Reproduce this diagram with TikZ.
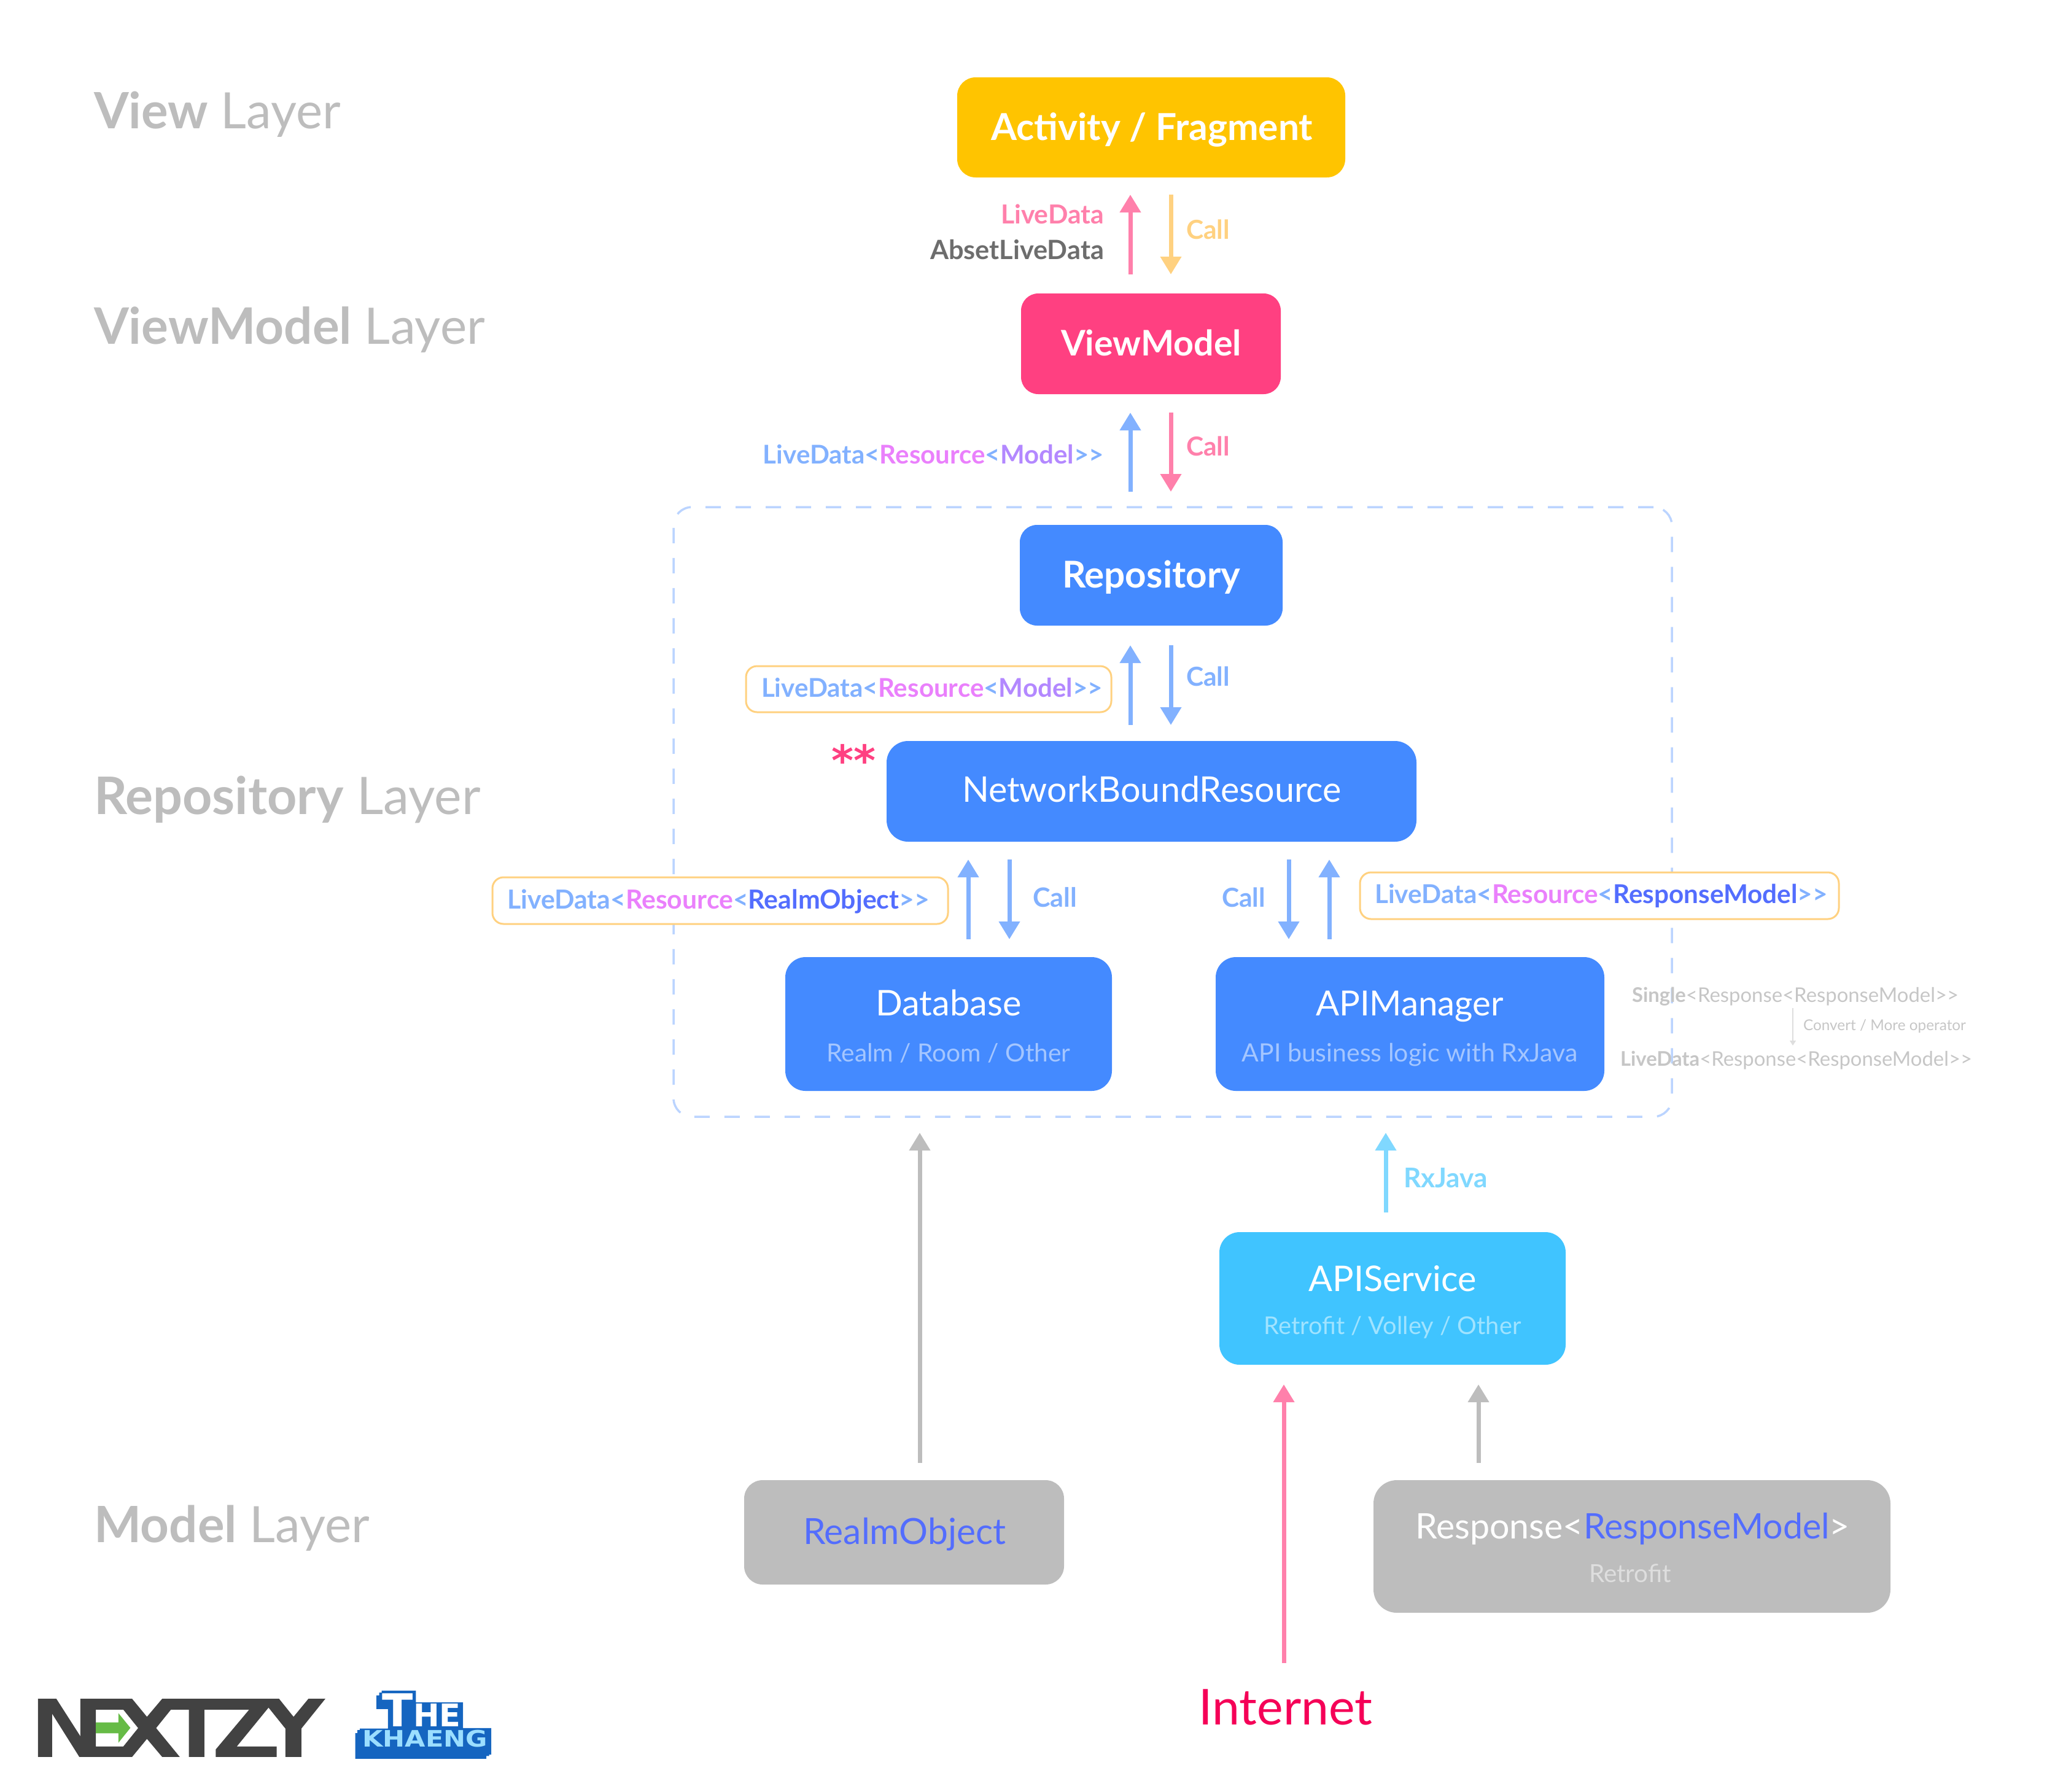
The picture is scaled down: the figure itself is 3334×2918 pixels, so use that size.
\documentclass[tikz,border=0pt]{standalone}
\usepackage{fontspec}
\usepackage{graphicx}
\setmainfont{Lato}
\newfontfamily\logofont{DejaVu Sans}
\usetikzlibrary{arrows.meta,fit}
\definecolor{cblue}{HTML}{448AFF}
\definecolor{cpink}{HTML}{FF4081}
\definecolor{camber}{HTML}{FFC400}
\definecolor{csky}{HTML}{40C4FF}
\definecolor{cgray}{HTML}{BDBDBD}
\definecolor{lblue}{HTML}{82B1FF}
\definecolor{lpink}{HTML}{FF80AB}
\definecolor{lorange}{HTML}{FFD180}
\definecolor{lsky}{HTML}{80D8FF}
\definecolor{rsrc}{HTML}{EA80FC}
\definecolor{mdl}{HTML}{B388FF}
\definecolor{indg}{HTML}{536DFE}
\definecolor{dashc}{HTML}{BBD4FF}
\definecolor{crimson}{HTML}{F50057}
\definecolor{darkt}{HTML}{6D6D6D}
\definecolor{subb}{HTML}{A4C6FF}
\definecolor{subs}{HTML}{A0E3FF}
\definecolor{ltgray}{HTML}{C6C6C6}
\definecolor{nxt}{HTML}{424242}
\definecolor{nxg}{HTML}{66BB46}
\definecolor{khb}{HTML}{1565C0}
\definecolor{khl}{HTML}{9BDEFF}
\newlength\pxu
\setlength\pxu{0.1mm}
\newcommand{\ft}[2]{\resizebox{#1\pxu}{!}{\fontsize{20}{24}\selectfont #2}}
\newcommand{\LDR}{\textcolor{lblue}{LiveData<}\textcolor{rsrc}{Resource}\textcolor{lblue}{<}}
\newcommand{\CL}{\textcolor{lblue}{>{}>}}
\tikzset{
  x=0.1mm,y=-0.1mm,
  boxn/.style={rounded corners=#1,inner sep=0pt,draw=none},
  boxn/.default=3.2mm,
  txt/.style={inner sep=0pt,outer sep=0pt,anchor=base west},
  txtc/.style={inner sep=0pt,outer sep=0pt,anchor=base},
  txte/.style={inner sep=0pt,outer sep=0pt,anchor=base east},
  flow/.style={line width=0.7mm,draw=#1,-{Triangle[length=2.9mm,width=3.3mm,fill=#1]}},
  tag/.style={rounded corners=1.8mm,inner sep=0pt,draw=lorange,line width=0.3mm,fill=white},
  frame/.style={rounded corners=3mm,inner sep=0pt,draw=dashc,line width=0.35mm,dash pattern=on 2.5mm off 2.4mm},
}
\begin{document}
\begin{tikzpicture}
\useasboundingbox (0,0) rectangle (3334,2918);
% frame
\node[frame,fit={(1097,826)(2723,1819)}] (repoframe) {};
% layer labels
\node[txt,text=cgray] (lview) at (153,209) {\ft{402}{\textbf{View} Layer}};
\node[txt,text=cgray] (lvm) at (153,560) {\ft{637}{\textbf{ViewModel} Layer}};
\node[txt,text=cgray] (lrepo) at (153,1326) {\ft{630}{\textbf{Repository} Layer}};
\node[txt,text=cgray] (lmodel) at (153,2512) {\ft{449}{\textbf{Model} Layer}};
% boxes
\node[boxn=3mm,fill=camber,fit={(1559,126)(2191,289)}] (activity) {};
\node[boxn=2.8mm,fill=cpink,fit={(1663,478)(2086,642)}] (viewmodel) {};
\node[boxn=2.8mm,fill=cblue,fit={(1661,855)(2089,1019)}] (repository) {};
\node[boxn=3.5mm,fill=cblue,fit={(1444,1207)(2307,1371)}] (nbr) {};
\node[boxn=3.3mm,fill=cblue,fit={(1279,1559)(1811,1777)}] (database) {};
\node[boxn=3.3mm,fill=cblue,fit={(1980,1559)(2613,1777)}] (apimanager) {};
\node[boxn=3.3mm,fill=csky,fit={(1986,2007)(2550,2223)}] (apiservice) {};
\node[boxn=3mm,fill=cgray,fit={(1212,2411)(1733,2581)}] (realmobj) {};
\node[boxn=3.8mm,fill=cgray,fit={(2237,2411)(3079,2627)}] (response) {};
% box texts
\node[txtc,text=white] (tactivity) at (1876,228) {\ft{524}{\textbf{Activity / Fragment}}};
\node[txtc,text=white] (tvm) at (1875,579) {\ft{294}{\textbf{ViewModel}}};
\node[txtc,text=white] (trepo) at (1875,957) {\ft{290}{\textbf{Repository}}};
\node[txtc,text=white] (tnbr) at (1876,1306) {\ft{618}{NetworkBoundResource}};
\node[txtc,text=white] (tdb) at (1545,1654) {\ft{237}{Database}};
\node[txtc,text=subb] (tdbs) at (1545,1729) {\ft{397}{Realm / Room / Other}};
\node[txtc,text=white] (tapi) at (2296,1654) {\ft{306}{APIManager}};
\node[txtc,text=subb] (tapis) at (2296,1729) {\ft{547}{API business logic with RxJava}};
\node[txtc,text=white] (tsvc) at (2268,2103) {\ft{273}{APIService}};
\node[txtc,text=subs] (tsvcs) at (2268,2173) {\ft{419}{Retrofit / Volley / Other}};
\node[txtc,text=indg] (trealm) at (1473,2515) {\ft{330}{RealmObject}};
\node[txtc,text=white] (tresp) at (2659,2506) {\ft{708}{Response<\textcolor{indg}{ResponseModel}>}};
\node[txtc,text=white!50!cgray] (tretro) at (2655,2577) {\ft{134}{Retrofit}};
\node[txtc,text=crimson] (tinternet) at (2094,2809) {\ft{283}{Internet}};
\node[txt,text=cpink] (tstar) at (1354,1263) {\logofont\ft{72}{\textbf{**}}};
% arrow ends
\coordinate (a1s) at (1841,447); \coordinate (a1e) at (1841,317);
\coordinate (a2s) at (1907,317); \coordinate (a2e) at (1907,447);
\coordinate (a3s) at (1841,801); \coordinate (a3e) at (1841,672);
\coordinate (a4s) at (1907,672); \coordinate (a4e) at (1907,801);
\coordinate (a5s) at (1841,1181); \coordinate (a5e) at (1841,1051);
\coordinate (a6s) at (1907,1051); \coordinate (a6e) at (1907,1181);
\coordinate (a7s) at (1577,1530); \coordinate (a7e) at (1577,1400);
\coordinate (a8s) at (1644,1400); \coordinate (a8e) at (1644,1530);
\coordinate (a9s) at (2099,1400); \coordinate (a9e) at (2099,1530);
\coordinate (a10s) at (2165,1530); \coordinate (a10e) at (2165,1400);
\coordinate (a11s) at (2257,1975); \coordinate (a11e) at (2257,1845);
\coordinate (a12s) at (1498,2383); \coordinate (a12e) at (1498,1845);
\coordinate (a13s) at (2091,2709); \coordinate (a13e) at (2091,2255);
\coordinate (a14s) at (2408,2383); \coordinate (a14e) at (2408,2255);
\coordinate (a15s) at (2920,1642); \coordinate (a15e) at (2920,1703);
\draw[flow=lpink] (a1s) -- (a1e);
\draw[flow=lorange] (a2s) -- (a2e);
\draw[flow=lblue] (a3s) -- (a3e);
\draw[flow=lpink] (a4s) -- (a4e);
\draw[flow=lblue] (a5s) -- (a5e);
\draw[flow=lblue] (a6s) -- (a6e);
\draw[flow=lblue] (a7s) -- (a7e);
\draw[flow=lblue] (a8s) -- (a8e);
\draw[flow=lblue] (a9s) -- (a9e);
\draw[flow=lblue] (a10s) -- (a10e);
\draw[flow=lsky] (a11s) -- (a11e);
\draw[flow=cgray] (a12s) -- (a12e);
\draw[flow=lpink] (a13s) -- (a13e);
\draw[flow=cgray] (a14s) -- (a14e);
\draw[line width=0.15mm,draw=cgray!50,-{Triangle[length=0.8mm,width=1mm,fill=cgray!50]}] (a15s) -- (a15e);
% arrow labels
\node[txte,text=lpink] (ll1) at (1798,364) {\ft{168}{\textbf{LiveData}}};
\node[txte,text=darkt] (ll2) at (1798,422) {\ft{283}{\textbf{AbsetLiveData}}};
\node[txt,text=lorange] (lc1) at (1932,389) {\ft{71}{\textbf{Call}}};
\node[txte] (ll3) at (1798,755) {\ft{555}{\bfseries\LDR\textcolor{mdl}{Model}\CL}};
\node[txt,text=lpink] (lc2) at (1932,742) {\ft{71}{\textbf{Call}}};
\node[tag,fit={(1215,1085)(1810,1160)}] (tag1) {};
\node[txt] (ll4) at (1240,1135) {\ft{556}{\bfseries\LDR\textcolor{mdl}{Model}\CL}};
\node[txt,text=lblue] (lc3) at (1932,1117) {\ft{71}{\textbf{Call}}};
\node[tag,fit={(802,1429)(1544,1505)}] (tag2) {};
\node[txt] (ll5) at (826,1480) {\ft{688}{\bfseries\LDR\textcolor{indg}{RealmObject}\CL}};
\node[txt,text=lblue] (lc4) at (1682,1477) {\ft{72}{\textbf{Call}}};
\node[txt,text=lblue] (lc5) at (1990,1477) {\ft{71}{\textbf{Call}}};
\node[tag,fit={(2215,1421)(2995,1497)}] (tag3) {};
\node[txt] (ll6) at (2239,1471) {\ft{738}{\bfseries\LDR\textcolor{indg}{ResponseModel}\CL}};
\node[txt,text=lsky] (lrx) at (2286,1934) {\ft{137}{\textbf{RxJava}}};
% side notes
\node[txt,text=ltgray] (ns) at (2658,1632) {\ft{532}{\textbf{Single}<Response<ResponseModel>{}>}};
\node[txt,text=ltgray] (nc) at (2937,1678) {\ft{265}{Convert / More operator}};
\node[txt,text=ltgray] (nl) at (2639,1736) {\ft{573}{\textbf{LiveData}<Response<ResponseModel>{}>}};
% NEXTZY logo
\begin{scope}[shift={(0,2650)},x=0.0574mm,y=-0.0333mm]
\fill[nxt] (108,352)--(160,352)--(228,535)--(228,636)--(225,636)--(148,425)--(148,636)--(108,636)--cycle;
\fill[nxt,even odd rule] (228,352)--(375,352)--(417,440)--(460,352)--(792,352)--(833,440)--(875,352)--(923,352)--(855,498)--(855,636)--(810,636)--(810,498)--(762,395)--(672,585)--(785,585)--(785,636)--(612,636)--(612,600)--(707,405)--(580,405)--(580,636)--(536,636)--(536,405)--(485,405)--(443,495)--(510,636)--(460,636)--(417,548)--(375,636)--(228,636)--cycle
 (272,405)--(350,405)--(392,495)--(350,585)--(272,585)--cycle;
\fill[nxg] (272,467)--(336,467)--(336,422)--(370,494)--(336,567)--(336,521)--(272,521)--cycle;
\fill[khb] (1083,312)--(1180,312)--(1180,369)--(1314,369)--(1314,495)--(1394,495)--(1394,625)--(1388,625)--(1388,632)--(1380,632)--(1380,645)--(1008,645)--(1008,520)--(1014,520)--(1014,505)--(1021,505)--(1021,497)--(1101,497)--(1101,402)--(1068,402)--(1068,335)--(1076,335)--(1076,322)--(1083,322)--cycle;
\node[txt,text=white] (kthe) at (1085,487) {\logofont\bfseries\fontsize{21}{21}\selectfont T\fontsize{14.5}{14.5}\selectfont HE};
\node[txt,text=khl] (kkh) at (1028,587) {\logofont\bfseries\scalebox{1.17}[1]{\fontsize{10.5}{10.5}\selectfont KHAENG}};
\end{scope}
\end{tikzpicture}
\end{document}
